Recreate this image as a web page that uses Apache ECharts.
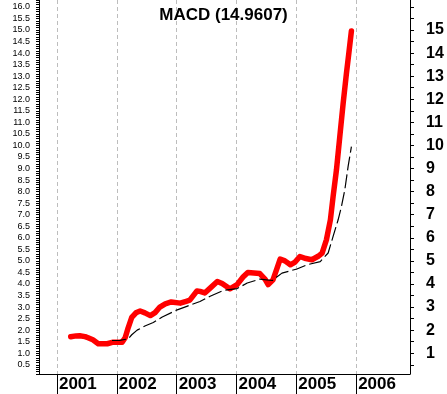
<!DOCTYPE html>
<html><head><meta charset="utf-8">
<script src="https://cdn.jsdelivr.net/npm/echarts@6/dist/echarts.min.js"></script>
<style>html,body{margin:0;padding:0;background:#fff}#c{width:447px;height:394px}</style>
</head><body><div id="c"></div>
<script>
const titleText = 'MACD (14.9607)';
const yearTicks = [2001, 2002, 2003, 2004, 2005, 2006];
const leftLabels = [0.5, 1.0, 1.5, 2.0, 2.5, 3.0, 3.5, 4.0, 4.5, 5.0, 5.5, 6.0, 6.5, 7.0, 7.5, 8.0,
  8.5, 9.0, 9.5, 10.0, 10.5, 11.0, 11.5, 12.0, 12.5, 13.0, 13.5, 14.0, 14.5, 15.0, 15.5, 16.0];
const rightTicks = [0.5, 1, 1.5, 2, 2.5, 3, 3.5, 4, 4.5, 5, 5.5, 6, 6.5, 7, 7.5, 8,
  8.5, 9, 9.5, 10, 10.5, 11, 11.5, 12, 12.5, 13, 13.5, 14, 14.5, 15, 15.5, 16];
const rightLabels = [1, 2, 3, 4, 5, 6, 7, 8, 9, 10, 11, 12, 13, 14, 15];

// MACD line (red): time in decimal years, value
const macdYears = [2001.23, 2001.32, 2001.38, 2001.47, 2001.52, 2001.60, 2001.69, 2001.84, 2001.94, 2002.09,
  2002.14, 2002.19, 2002.25, 2002.32, 2002.39, 2002.47, 2002.56, 2002.64, 2002.72, 2002.81,
  2002.91, 2003.06, 2003.16, 2003.22, 2003.34, 2003.39, 2003.47, 2003.56, 2003.68, 2003.76,
  2003.89, 2004.01, 2004.11, 2004.19, 2004.39, 2004.48, 2004.53, 2004.61, 2004.68, 2004.73,
  2004.81, 2004.90, 2004.98, 2005.06, 2005.16, 2005.26, 2005.365, 2005.431, 2005.503, 2005.570,
  2005.615, 2005.671, 2005.727, 2005.783, 2005.838, 2005.878, 2005.921];
const macdValues = [1.71, 1.75, 1.76, 1.72, 1.67, 1.58, 1.41, 1.41, 1.48, 1.48,
  1.67, 2.10, 2.55, 2.75, 2.83, 2.75, 2.63, 2.76, 3.00, 3.14,
  3.22, 3.17, 3.25, 3.30, 3.70, 3.68, 3.61, 3.82, 4.11, 4.02,
  3.79, 3.97, 4.30, 4.50, 4.45, 4.20, 3.97, 4.18, 4.70, 5.08,
  5.00, 4.83, 4.95, 5.19, 5.10, 5.05, 5.20, 5.34, 5.91, 6.78,
  7.79, 8.94, 10.39, 11.83, 13.13, 14.00, 14.96];

// Signal line (black dashed)
const signalYears = [2001.92, 2002.05, 2002.19, 2002.25, 2002.34, 2002.47, 2002.61, 2002.76, 2003.01, 2003.17,
  2003.39, 2003.56, 2003.78, 2004.01, 2004.18, 2004.39, 2004.60, 2004.76, 2005.01, 2005.18,
  2005.40, 2005.532, 2005.615, 2005.699, 2005.754, 2005.811, 2005.866, 2005.921];
const signalValues = [1.55, 1.56, 1.62, 1.80, 2.00, 2.18, 2.33, 2.57, 2.88, 3.03,
  3.24, 3.47, 3.72, 3.80, 4.04, 4.21, 4.15, 4.47, 4.65, 4.83,
  4.97, 5.34, 6.06, 6.78, 7.35, 8.08, 9.09, 9.95];

const FONT = '"Liberation Sans", Arial, sans-serif';
const zip = (xs, ys) => xs.map((x, i) => [x, ys[i]]);

const chart = echarts.init(document.getElementById('c'), null, {renderer: 'canvas'});
chart.setOption({
  animation: false,
  backgroundColor: '#ffffff',
  title: {
    text: titleText, left: 'center', top: 2,
    textStyle: {fontFamily: FONT, fontSize: 17, fontWeight: 'bold', color: '#000'}
  },
  grid: {left: 39, right: 37, top: 0, bottom: 20, containLabel: false},
  xAxis: {
    type: 'value', min: 2000.70, max: 2006.90,
    axisLine: {show: true, onZero: false, lineStyle: {color: '#000', width: 1}},
    axisTick: {show: true, customValues: yearTicks, length: 20, lineStyle: {color: '#000', width: 1}},
    axisLabel: {
      customValues: yearTicks, formatter: v => String(Math.round(v)),
      align: 'left', verticalAlign: 'middle', margin: 10, padding: [0, 0, 0, 2],
      fontFamily: FONT, fontSize: 17, fontWeight: 'bold', color: '#000'
    },
    splitLine: {show: true, lineStyle: {color: '#bdbdbd', type: [4, 3], width: 1}}
  },
  yAxis: [
    {
      type: 'value', position: 'left', min: 0.1, max: 16.3, interval: 0.1,
      axisLine: {show: true, lineStyle: {color: '#000'}},
      axisTick: {show: true, length: 3, lineStyle: {color: '#000'}},
      axisLabel: {customValues: leftLabels, formatter: v => v.toFixed(1), margin: 9,
        fontSize: 9, color: '#000', fontFamily: FONT},
      splitLine: {show: false}
    },
    {
      type: 'value', position: 'right', min: 0.1, max: 16.3,
      axisLine: {show: true, lineStyle: {color: '#000'}},
      axisTick: {show: true, customValues: rightTicks, length: 4, lineStyle: {color: '#000'}},
      axisLabel: {customValues: rightLabels, formatter: v => String(v), margin: 16,
        fontSize: 16, fontWeight: 'bold', color: '#000', fontFamily: FONT},
      splitLine: {show: false}
    }
  ],
  series: [
    {type: 'line', yAxisIndex: 0, data: zip(macdYears, macdValues), showSymbol: false,
      smooth: false, lineStyle: {color: '#ff0000', width: 5.5, cap: 'round', join: 'round'}, z: 2},
    {type: 'line', yAxisIndex: 0, data: zip(signalYears, signalValues), showSymbol: false,
      smooth: false, lineStyle: {color: '#000', width: 1.2, type: [14, 4]}, z: 3}
  ]
});
</script></body></html>
